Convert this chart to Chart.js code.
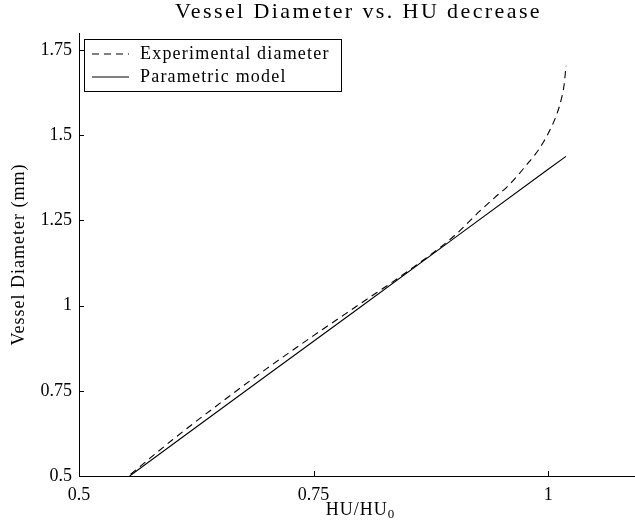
<!DOCTYPE html>
<html>
<head>
<meta charset="utf-8">
<script src="https://cdn.jsdelivr.net/npm/chart.js@4/dist/chart.umd.min.js"></script>
<style>
  html, body { margin: 0; padding: 0; background: #fff; overflow: hidden; }
  #wrap { width: 642px; height: 525px; }
</style>
</head>
<body>
<div id="wrap"><canvas id="chart" width="642" height="525"></canvas></div>
<script>
// values
const titleText = 'Vessel Diameter vs. HU decrease';
const xTitle = 'HU/HU';
const xTitleSub = '0';
const yTitle = 'Vessel Diameter (mm)';

const xTicks = [0.5, 0.75, 1];
const yTicks = [0.5, 0.75, 1, 1.25, 1.5, 1.75];

const expX = [0.555, 0.6, 0.65, 0.7, 0.75, 0.8, 0.85, 0.9, 0.927, 0.943, 0.956, 0.967, 0.977, 0.986, 0.995, 1.003, 1.009, 1.014, 1.017, 1.019];
const expY = [0.505, 0.607, 0.713, 0.815, 0.912, 1.006, 1.100, 1.205, 1.277, 1.317, 1.348, 1.380, 1.413, 1.443, 1.480, 1.522, 1.560, 1.606, 1.648, 1.704];

const modelX = [0.554, 0.6, 0.7, 0.8, 0.9, 1.0, 1.019];
const modelY = [0.500, 0.593, 0.795, 0.996, 1.198, 1.400, 1.438];

const serif = '"Liberation Serif", "DejaVu Serif", serif';

function pts(xs, ys) {
    return xs.map((x, i) => ({ x: x, y: ys[i] }));
}

// inward ticks, titles and the boxed legend
const decor = {
    id: 'decor',
    afterDraw(chart) {
        const ctx = chart.ctx;
        const a = chart.chartArea;
        const xs = chart.scales.x, ys = chart.scales.y;
        ctx.save();
        ctx.strokeStyle = '#000';
        ctx.lineWidth = 1;
        ctx.beginPath();
        xTicks.forEach(v => {
            const px = Math.round(xs.getPixelForValue(v)) + 0.5;
            ctx.moveTo(px, a.bottom);
            ctx.lineTo(px, a.bottom - 5);
        });
        yTicks.forEach(v => {
            const py = Math.round(ys.getPixelForValue(v)) + 0.5;
            ctx.moveTo(a.left, py);
            ctx.lineTo(a.left + 5, py);
        });
        ctx.stroke();

        ctx.fillStyle = '#000';
        ctx.textAlign = 'center';
        ctx.textBaseline = 'middle';
        ctx.font = '22px ' + serif;
        ctx.letterSpacing = '2.4px';
        const cx = (a.left + xs.getPixelForValue(1.1)) / 2;
        ctx.fillText(titleText, cx - 2, 12);

        // x title with subscript
        ctx.font = '18px ' + serif;
        ctx.letterSpacing = '1px';
        ctx.textAlign = 'left';
        const w1 = ctx.measureText(xTitle).width;
        ctx.font = '13px ' + serif;
        const w2 = ctx.measureText(xTitleSub).width;
        const sx = cx - (w1 + w2) / 2;
        ctx.font = '18px ' + serif;
        ctx.fillText(xTitle, sx, 510);
        ctx.font = '13px ' + serif;
        ctx.fillText(xTitleSub, sx + w1, 515);

        ctx.save();
        ctx.font = '18px ' + serif;
        ctx.letterSpacing = '1px';
        ctx.textAlign = 'center';
        ctx.translate(19, (a.top + a.bottom) / 2);
        ctx.rotate(-Math.PI / 2);
        ctx.fillText(yTitle, 0, 0);
        ctx.restore();

        // legend
        const bx = 84.5, by = 39.5, bw = 257, bh = 52;
        ctx.fillStyle = '#fff';
        ctx.fillRect(bx, by, bw, bh);
        ctx.strokeRect(bx, by, bw, bh);
        ctx.font = '18px ' + serif;
        ctx.letterSpacing = '1.2px';
        ctx.textAlign = 'left';
        chart.data.datasets.forEach((ds, i) => {
            const ly = 54 + i * 23;
            ctx.beginPath();
            ctx.setLineDash(ds.borderDash || []);
            ctx.moveTo(92, ly);
            ctx.lineTo(129, ly);
            ctx.stroke();
            ctx.setLineDash([]);
            ctx.fillStyle = '#000';
            ctx.fillText(ds.label, 140, ly);
        });
        ctx.letterSpacing = '0px';
        ctx.restore();
    }
};

new Chart(document.getElementById('chart'), {
    type: 'scatter',
    data: {
        datasets: [{
            label: 'Experimental diameter',
            data: pts(expX, expY),
            showLine: true,
            borderColor: '#000',
            borderWidth: 1.1,
            borderDash: [7, 5],
            cubicInterpolationMode: 'monotone',
            pointRadius: 0,
            fill: false
        }, {
            label: 'Parametric model',
            data: pts(modelX, modelY),
            showLine: true,
            borderColor: '#000',
            borderWidth: 1.1,
            pointRadius: 0,
            fill: false
        }]
    },
    options: {
        responsive: false,
        animation: false,
        layout: { padding: { top: 33, right: 0, left: 0, bottom: 0 } },
        plugins: {
            legend: { display: false },
            tooltip: { enabled: false },
            title: { display: false }
        },
        scales: {
            x: {
                type: 'linear',
                min: 0.5,
                max: 1.1,
                afterBuildTicks: s => { s.ticks = xTicks.map(v => ({ value: v })); },
                afterFit: s => { s.height = 49; },
                grid: { display: false, drawTicks: false },
                border: { color: '#000', width: 1 },
                ticks: {
                    color: '#000',
                    padding: 8,
                    maxRotation: 0,
                    font: { family: serif, size: 18 },
                    callback: v => String(v)
                }
            },
            y: {
                type: 'linear',
                min: 0.5,
                max: 1.8,
                afterBuildTicks: s => { s.ticks = yTicks.map(v => ({ value: v })); },
                afterFit: s => { s.width = 79; },
                grid: { display: false, drawTicks: false },
                border: { color: '#000', width: 1 },
                ticks: {
                    color: '#000',
                    padding: 7,
                    font: { family: serif, size: 18 },
                    callback: v => String(v)
                }
            }
        }
    },
    plugins: [decor]
});
</script>
</body>
</html>
